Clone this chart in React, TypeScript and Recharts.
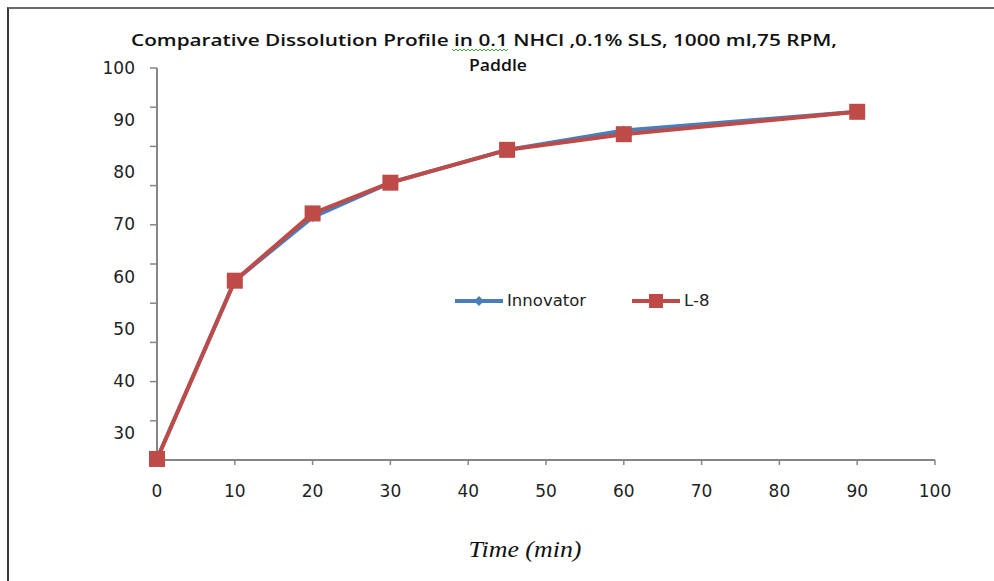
import React from 'react';
import { LineChart, Line, XAxis, YAxis, Legend } from 'recharts';

const times = [0, 10, 20, 30, 45, 60, 90];
const innovatorValues = [25.0, 59.2, 71.4, 78.0, 84.3, 88.0, 91.6];
const l8Values = [25.0, 59.2, 72.1, 78.0, 84.3, 87.3, 91.6];
const xTicks = [0, 10, 20, 30, 40, 50, 60, 70, 80, 90, 100];
const yLabelTicks = [30, 40, 50, 60, 70, 80, 90, 100];
const yMarkTicks = [0, 10, 20, 30, 40, 50, 60, 70, 80, 90, 100];
const titleLine1 = 'Comparative Dissolution Profile in  0.1 NHCl ,0.1% SLS, 1000 ml,75 RPM,';
const titleLine2 = 'Paddle';
const xTitle = 'Time (min)';

const data = times.map((t, i) => ({ time: t, innovator: innovatorValues[i], l8: l8Values[i] }));

const BLUE = '#4a7ebb';
const RED = '#be4b48';
const AXIS = '#868686';
const FONT = '"DejaVu Sans", Verdana, sans-serif';

const Diamond = (props: any) => {
  const { cx, cy } = props;
  if (cx == null || cy == null) return null;
  const r = 5;
  return (
    <polygon
      key={`d-${cx}-${cy}`}
      points={`${cx},${cy - r} ${cx + r},${cy} ${cx},${cy + r} ${cx - r},${cy}`}
      fill={BLUE}
    />
  );
};

const Square = (props: any) => {
  const { cx, cy } = props;
  if (cx == null || cy == null) return null;
  const s = 16;
  return <rect key={`s-${cx}-${cy}`} x={cx - s / 2} y={cy - s / 2} width={s} height={s} fill={RED} />;
};

const EmptyTick = (props: any) => <g key={`e-${props.index}`} />;

const renderLegend = (props: any) => {
  const payload = (props.payload || []).filter((p: any) => p.value === 'Innovator' || p.value === 'L-8');
  return (
    <div style={{ display: 'flex', alignItems: 'center', fontFamily: FONT, fontSize: 16.5, color: '#222' }}>
      {payload.map((p: any, i: number) => {
        const isRed = p.value === 'L-8';
        return (
          <div key={i} style={{ display: 'flex', alignItems: 'center', marginRight: i === 0 ? 46 : 0 }}>
            <svg width={48} height={16} style={{ display: 'block' }}>
              <line x1={0} y1={8} x2={48} y2={8} stroke={isRed ? RED : BLUE} strokeWidth={4} />
              {isRed ? (
                <rect x={17} y={1} width={14} height={14} fill={RED} />
              ) : (
                <polygon points="24,3 29,8 24,13 19,8" fill={BLUE} />
              )}
            </svg>
            <span style={{ marginLeft: 4, lineHeight: '16px' }}>{p.value}</span>
          </div>
        );
      })}
    </div>
  );
};

export default function App() {
  return (
    <div style={{ position: 'absolute', left: 0, top: 0, width: 994, height: 581, background: '#fff', overflow: 'hidden' }}>
      <div
        style={{
          position: 'absolute',
          left: 7,
          top: 7,
          width: 994,
          height: 581,
          borderTop: '2px solid #6a6a6a',
          borderLeft: '2px solid #3a3a3a',
          boxSizing: 'border-box',
        }}
      />
      <LineChart
        width={994}
        height={581}
        data={data}
        margin={{ top: 68, right: 59, bottom: 91, left: 155 }}
        style={{ position: 'absolute', left: 0, top: 0 }}
      >
        <XAxis
          dataKey="time"
          type="number"
          domain={[0, 100]}
          ticks={xTicks}
          height={30}
          axisLine={{ stroke: AXIS, strokeWidth: 2 }}
          tickLine={{ stroke: AXIS, strokeWidth: 1.5 }}
          tickSize={5}
          tickMargin={20}
          tick={{ fontFamily: FONT, fontSize: 17, fill: '#222' }}
          interval={0}
        />
        <YAxis
          yAxisId="marks"
          type="number"
          domain={[0, 100]}
          ticks={yMarkTicks}
          width={1}
          axisLine={{ stroke: AXIS, strokeWidth: 2 }}
          tickLine={{ stroke: AXIS, strokeWidth: 1.5 }}
          tickSize={7}
          tick={EmptyTick}
          interval={0}
        />
        <YAxis
          yAxisId="vals"
          type="number"
          domain={[24.8, 100]}
          ticks={yLabelTicks}
          width={1}
          axisLine={false}
          tickLine={false}
          tickSize={0}
          tickMargin={21}
          tick={{ fontFamily: FONT, fontSize: 17, fill: '#222' }}
          interval={0}
        />
        <Legend
          layout="horizontal"
          verticalAlign="middle"
          align="center"
          content={renderLegend}
          wrapperStyle={{ position: 'absolute', top: 293, left: 455, width: 'auto', height: 16 }}
        />
        <Line
          yAxisId="marks"
          type="linear"
          dataKey="l8"
          name="axis-helper"
          stroke="transparent"
          strokeWidth={0}
          dot={false}
          activeDot={false}
          legendType="none"
          isAnimationActive={false}
        />
        <Line
          yAxisId="vals"
          type="linear"
          dataKey="innovator"
          name="Innovator"
          stroke={BLUE}
          strokeWidth={4}
          dot={Diamond}
          activeDot={false}
          isAnimationActive={false}
        />
        <Line
          yAxisId="vals"
          type="linear"
          dataKey="l8"
          name="L-8"
          stroke={RED}
          strokeWidth={4}
          dot={Square}
          activeDot={false}
          isAnimationActive={false}
        />
      </LineChart>
      <svg width={994} height={581} style={{ position: 'absolute', left: 0, top: 0, pointerEvents: 'none' }}>
        <text
          x={484}
          y={46}
          textAnchor="middle"
          fontFamily='"Open Sans", "Liberation Sans", Arial, sans-serif'
          fontWeight={600}
          fontSize={17}
          fill="#111"
          textLength={706}
          lengthAdjust="spacingAndGlyphs"
        >
          {titleLine1}
        </text>
        <text
          x={498}
          y={71}
          textAnchor="middle"
          fontFamily='"Open Sans", "Liberation Sans", Arial, sans-serif'
          fontWeight={600}
          fontSize={17}
          fill="#111"
          textLength={58}
          lengthAdjust="spacingAndGlyphs"
        >
          {titleLine2}
        </text>
        <path
          d="M452 49 l2 2 l2 -2 l2 2 l2 -2 l2 2 l2 -2 l2 2 l2 -2 l2 2 l2 -2 l2 2 l2 -2 l2 2 l2 -2 l2 2 l2 -2 l2 2 l2 -2 l2 2 l2 -2 l2 2 l2 -2 l2 2 l2 -2 l2 2 l2 -2 l2 2 l2 -2"
          fill="none"
          stroke="#3aa23a"
          strokeWidth={1}
        />
        <text
          x={525}
          y={557}
          textAnchor="middle"
          fontFamily='"Liberation Serif", "Times New Roman", serif'
          fontStyle="italic"
          fontSize={24}
          fill="#111"
          textLength={113}
          lengthAdjust="spacingAndGlyphs"
        >
          {xTitle}
        </text>
      </svg>
    </div>
  );
}
